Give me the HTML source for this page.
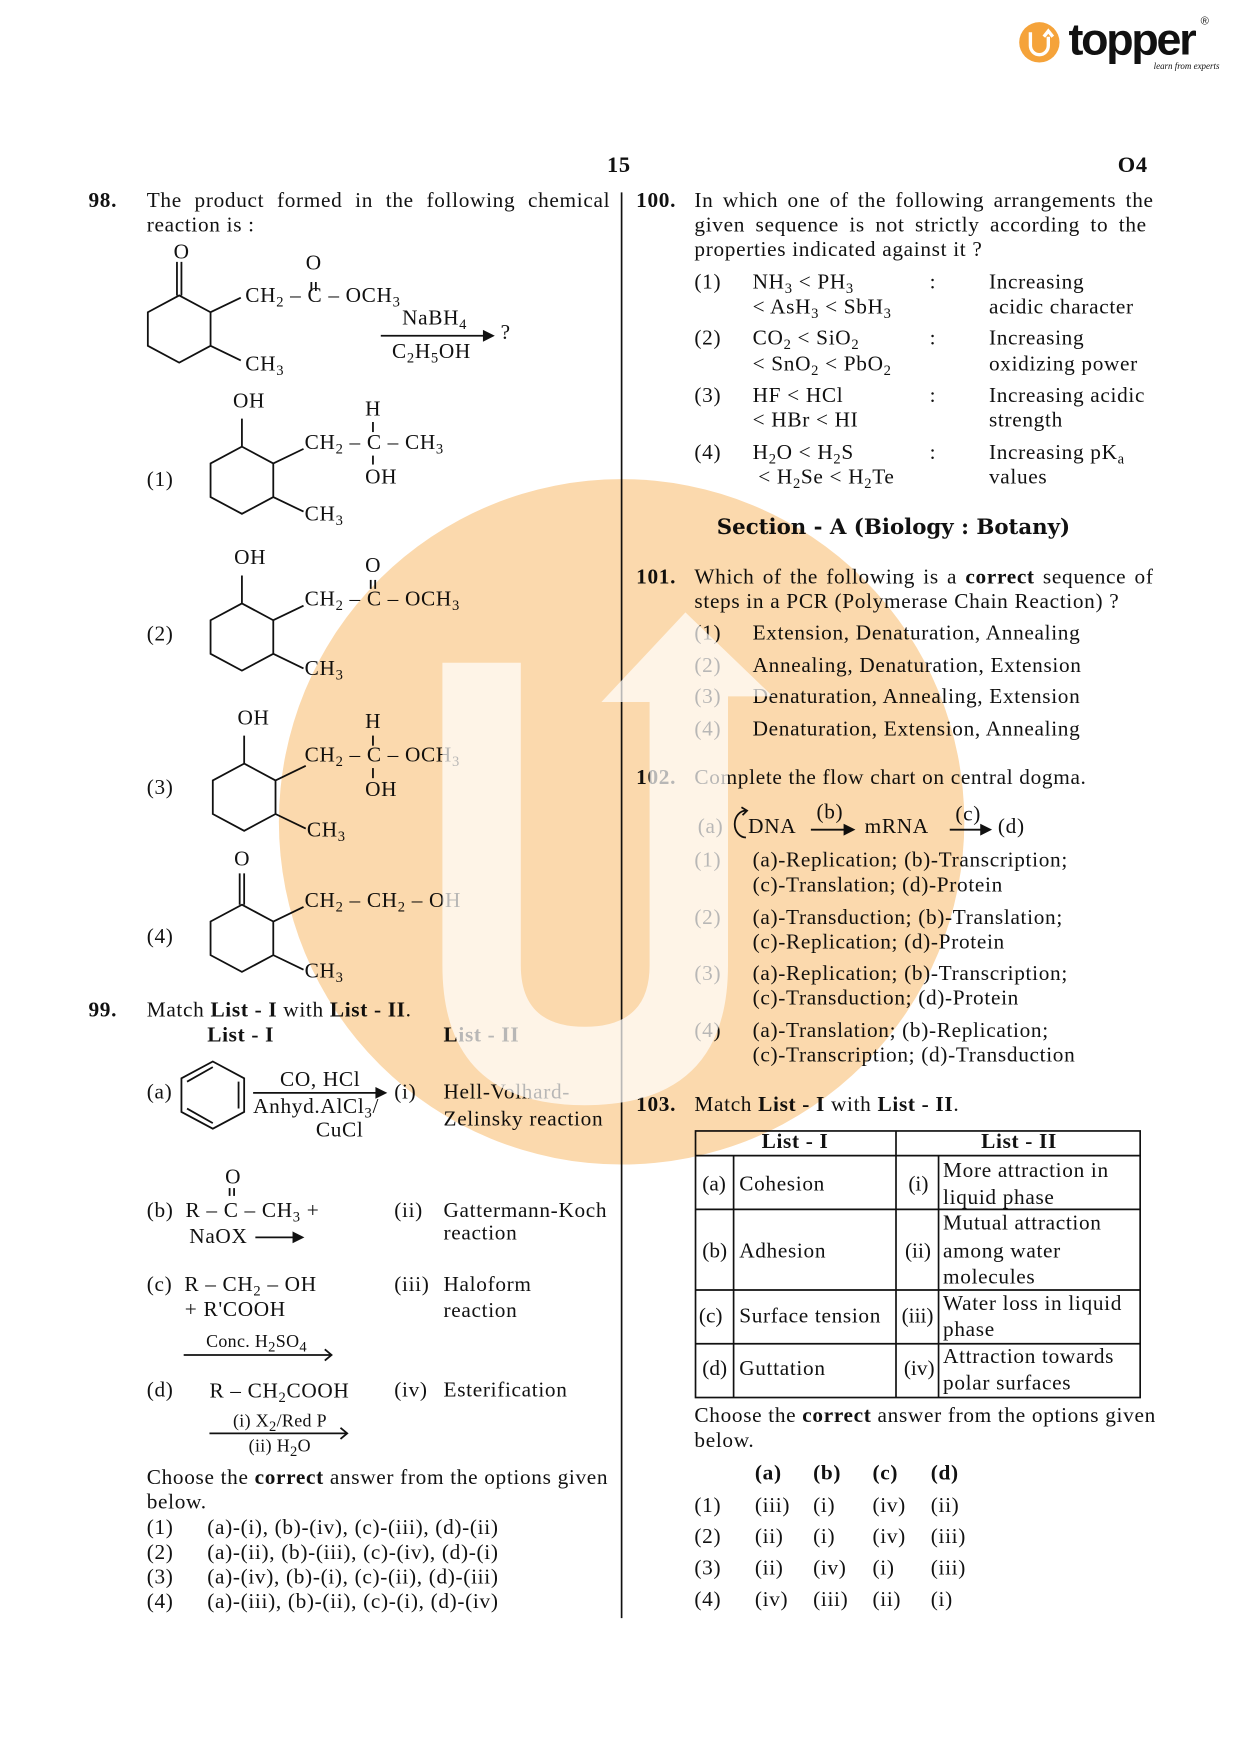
<!DOCTYPE html>
<html><head><meta charset="utf-8">
<style>
html,body{margin:0;padding:0;background:#fff;}
#wrap{position:relative;width:1240px;height:1755px;overflow:hidden;}
#pg{position:absolute;left:0;top:2px;width:1108px;height:1567px;transform:scale(1.12);transform-origin:0 0;font-family:"Liberation Serif",serif;font-size:19px;color:#111;}
.t{position:absolute;white-space:nowrap;line-height:22px;letter-spacing:0.6px;}
b{font-weight:bold;}
sub{font-size:13px;vertical-align:-4px;line-height:0;}
svg{position:absolute;left:0;top:0;}
.sm{font-size:16px;letter-spacing:0.3px;}
.hd{font-family:"DejaVu Serif","Liberation Serif",serif;font-weight:bold;font-size:19px;letter-spacing:0;}
</style></head><body><div id="wrap"><div id="pg">

<svg width="1100" height="80" style="left:0;top:0">
<circle cx="928" cy="36" r="18" fill="#f5a33a"/>
<path d="M920 27 v12 a8 8 0 0 0 16 0 v-8 M932 31 l4 -5 l4 5" stroke="#fff" stroke-width="3" fill="none"/>
</svg>
<div class="t" style="left:954px;top:12px;font-family:'Liberation Sans',sans-serif;font-weight:bold;font-size:40px;line-height:44px;letter-spacing:-2px;color:#111">topper</div>
<div class="t" style="left:1072px;top:12px;font-family:'Liberation Sans',sans-serif;font-size:10px;line-height:12px">®</div>
<div class="t" style="left:1030px;top:53px;font-size:8px;font-style:italic;line-height:10px;letter-spacing:0">learn from experts</div>

<div class="t" style="left:542px;top:135px;font-size:20px;font-weight:bold">15</div>
<div class="t" style="left:998px;top:135px;font-size:20px;font-weight:bold">O4</div>

<svg width="1100" height="1557">
<line x1="555" y1="170" x2="555" y2="1443" stroke="#111" stroke-width="1.5"/>
<g stroke="#111" stroke-width="1.6" fill="none">
<g transform="translate(160,262)"><path d="M0 0 L28 15 L28 45 L0 60 L-28 45 L-28 15 Z M28 15 L55 2 M28 45 L55 58"/><path d="M-2 0 V-30 M2 0 V-30"/></g>
<line x1="282" y1="250" x2="282" y2="258"/><line x1="278" y1="250" x2="278" y2="258"/>
<line x1="340" y1="298" x2="438" y2="298"/><path d="M432 294 L440 298 L432 302 Z" fill="#111"/>
<g transform="translate(216,397)"><path d="M0 0 L28 15 L28 45 L0 60 L-28 45 L-28 15 Z M28 15 L55 2 M28 45 L55 58 M0 0 V-25"/></g>
<line x1="333" y1="375" x2="333" y2="384"/><line x1="333" y1="405" x2="333" y2="413"/>
<g transform="translate(216,537)"><path d="M0 0 L28 15 L28 45 L0 60 L-28 45 L-28 15 Z M28 15 L55 2 M28 45 L55 58 M0 0 V-25"/></g>
<line x1="331" y1="516" x2="331" y2="524"/><line x1="335" y1="516" x2="335" y2="524"/>
<g transform="translate(218,680)"><path d="M0 0 L28 15 L28 45 L0 60 L-28 45 L-28 15 Z M28 15 L55 2 M28 45 L55 58 M0 0 V-25"/></g>
<line x1="333" y1="655" x2="333" y2="664"/><line x1="333" y1="684" x2="333" y2="693"/>
<g transform="translate(216,806)"><path d="M0 0 L28 15 L28 45 L0 60 L-28 45 L-28 15 Z M28 15 L55 2 M28 45 L55 58"/><path d="M-2 0 V-28 M2 0 V-28"/></g>
<path d="M190 946 L218 961 L218 991 L190 1006 L162 991 L162 961 Z M167 964 L190 951 M213 964 L213 988 M167 988 L190 1001"/>
<line x1="226" y1="974" x2="338" y2="974"/><path d="M336 970 L344 974 L336 978 Z" fill="#111"/>
<line x1="205" y1="1059" x2="205" y2="1066"/><line x1="209" y1="1059" x2="209" y2="1066"/>
<line x1="228" y1="1103" x2="264" y2="1103"/><path d="M262 1099 L270 1103 L262 1107 Z" fill="#111"/>
<line x1="164" y1="1208" x2="296" y2="1208"/><path d="M290 1203 L296 1208 L290 1213"/>
<line x1="187" y1="1278" x2="310" y2="1278"/><path d="M304 1273 L310 1278 L304 1283"/>
<path d="M666 722 A10 12 0 1 0 666 746"/><path d="M662 719 L667 722 L663 726"/>
<line x1="724" y1="739" x2="758" y2="739"/><path d="M754 735 L762 739 L754 743 Z" fill="#111"/>
<line x1="848" y1="739" x2="878" y2="739"/><path d="M876 735 L884 739 L876 743 Z" fill="#111"/>
<rect x="621" y="1008" width="397" height="238" stroke-width="1.5"/>
<path d="M621 1030 H1018 M621 1078 H1018 M621 1150 H1018 M621 1198 H1018 M800 1008 V1246 M655 1030 V1246 M838 1030 V1246" stroke-width="1.5"/>
</g>
</svg>

<!-- Q98 -->
<div class="t" style="left:79px;top:167px"><b>98.</b></div>
<div class="t" style="left:131px;top:167px;word-spacing:6px">The product formed in the following chemical</div>
<div class="t" style="left:131px;top:189px">reaction is :</div>
<div class="t" style="left:155px;top:213px">O</div>
<div class="t" style="left:273px;top:223px">O</div>
<div class="t" style="left:219px;top:252px">CH<sub>2</sub> – C – OCH<sub>3</sub></div>
<div class="t" style="left:359px;top:272px">NaBH<sub>4</sub></div>
<div class="t" style="left:447px;top:285px">?</div>
<div class="t" style="left:350px;top:302px">C<sub>2</sub>H<sub>5</sub>OH</div>
<div class="t" style="left:219px;top:313px">CH<sub>3</sub></div>

<div class="t" style="left:208px;top:346px">OH</div>
<div class="t" style="left:326px;top:353px">H</div>
<div class="t" style="left:272px;top:383px">CH<sub>2</sub> – C – CH<sub>3</sub></div>
<div class="t" style="left:326px;top:414px">OH</div>
<div class="t" style="left:131px;top:416px">(1)</div>
<div class="t" style="left:272px;top:447px">CH<sub>3</sub></div>

<div class="t" style="left:209px;top:486px">OH</div>
<div class="t" style="left:326px;top:493px">O</div>
<div class="t" style="left:272px;top:523px">CH<sub>2</sub> – C – OCH<sub>3</sub></div>
<div class="t" style="left:131px;top:554px">(2)</div>
<div class="t" style="left:272px;top:585px">CH<sub>3</sub></div>

<div class="t" style="left:212px;top:629px">OH</div>
<div class="t" style="left:326px;top:632px">H</div>
<div class="t" style="left:272px;top:662px">CH<sub>2</sub> – C – OCH<sub>3</sub></div>
<div class="t" style="left:326px;top:693px">OH</div>
<div class="t" style="left:131px;top:691px">(3)</div>
<div class="t" style="left:274px;top:729px">CH<sub>3</sub></div>

<div class="t" style="left:209px;top:755px">O</div>
<div class="t" style="left:272px;top:792px">CH<sub>2</sub> – CH<sub>2</sub> – OH</div>
<div class="t" style="left:131px;top:824px">(4)</div>
<div class="t" style="left:272px;top:855px">CH<sub>3</sub></div>

<!-- Q99 -->
<div class="t" style="left:79px;top:890px"><b>99.</b></div>
<div class="t" style="left:131px;top:890px">Match <b>List - I</b> with <b>List - II</b>.</div>
<div class="t" style="left:185px;top:912px"><b>List - I</b></div>
<div class="t" style="left:396px;top:912px"><b>List - II</b></div>
<div class="t" style="left:131px;top:963px">(a)</div>
<div class="t" style="left:250px;top:952px">CO, HCl</div>
<div class="t" style="left:226px;top:976px">Anhyd.AlCl<sub>3</sub>/</div>
<div class="t" style="left:282px;top:997px">CuCl</div>
<div class="t" style="left:352px;top:963px">(i)</div>
<div class="t" style="left:396px;top:963px">Hell-Volhard-</div>
<div class="t" style="left:396px;top:987px">Zelinsky reaction</div>
<div class="t" style="left:201px;top:1039px">O</div>
<div class="t" style="left:131px;top:1069px">(b)&nbsp; R – C – CH<sub>3</sub> +</div>
<div class="t" style="left:169px;top:1092px">NaOX</div>
<div class="t" style="left:352px;top:1069px">(ii)</div>
<div class="t" style="left:396px;top:1069px">Gattermann-Koch</div>
<div class="t" style="left:396px;top:1089px">reaction</div>
<div class="t" style="left:131px;top:1135px">(c)&nbsp; R – CH<sub>2</sub> – OH</div>
<div class="t" style="left:165px;top:1157px">+ R'COOH</div>
<div class="t sm" style="left:184px;top:1186px">Conc. H<sub>2</sub>SO<sub>4</sub></div>
<div class="t" style="left:352px;top:1135px">(iii)</div>
<div class="t" style="left:396px;top:1135px">Haloform</div>
<div class="t" style="left:396px;top:1158px">reaction</div>
<div class="t" style="left:131px;top:1229px">(d)</div>
<div class="t" style="left:187px;top:1230px">R – CH<sub>2</sub>COOH</div>
<div class="t sm" style="left:208px;top:1257px">(i) X<sub>2</sub>/Red P</div>
<div class="t sm" style="left:222px;top:1279px">(ii) H<sub>2</sub>O</div>
<div class="t" style="left:352px;top:1229px">(iv)</div>
<div class="t" style="left:396px;top:1229px">Esterification</div>
<div class="t" style="left:131px;top:1307px">Choose the <b>correct</b> answer from the options given</div>
<div class="t" style="left:131px;top:1329px">below.</div>
<div class="t" style="left:131px;top:1352px">(1)</div><div class="t" style="left:185px;top:1352px">(a)-(i), (b)-(iv), (c)-(iii), (d)-(ii)</div>
<div class="t" style="left:131px;top:1374px">(2)</div><div class="t" style="left:185px;top:1374px">(a)-(ii), (b)-(iii), (c)-(iv), (d)-(i)</div>
<div class="t" style="left:131px;top:1396px">(3)</div><div class="t" style="left:185px;top:1396px">(a)-(iv), (b)-(i), (c)-(ii), (d)-(iii)</div>
<div class="t" style="left:131px;top:1418px">(4)</div><div class="t" style="left:185px;top:1418px">(a)-(iii), (b)-(ii), (c)-(i), (d)-(iv)</div>

<!-- Q100 -->
<div class="t" style="left:568px;top:167px"><b>100.</b></div>
<div class="t" style="left:620px;top:167px;word-spacing:3px">In which one of the following arrangements the</div>
<div class="t" style="left:620px;top:189px;word-spacing:4px">given sequence is not strictly according to the</div>
<div class="t" style="left:620px;top:211px">properties indicated against it ?</div>
<div class="t" style="left:620px;top:240px">(1)</div><div class="t" style="left:672px;top:240px">NH<sub>3</sub> &lt; PH<sub>3</sub></div><div class="t" style="left:672px;top:262px">&lt; AsH<sub>3</sub> &lt; SbH<sub>3</sub></div>
<div class="t" style="left:830px;top:240px">:</div><div class="t" style="left:883px;top:240px">Increasing</div><div class="t" style="left:883px;top:262px">acidic character</div>
<div class="t" style="left:620px;top:290px">(2)</div><div class="t" style="left:672px;top:290px">CO<sub>2</sub> &lt; SiO<sub>2</sub></div><div class="t" style="left:672px;top:313px">&lt; SnO<sub>2</sub> &lt; PbO<sub>2</sub></div>
<div class="t" style="left:830px;top:290px">:</div><div class="t" style="left:883px;top:290px">Increasing</div><div class="t" style="left:883px;top:313px">oxidizing power</div>
<div class="t" style="left:620px;top:341px">(3)</div><div class="t" style="left:672px;top:341px">HF &lt; HCl</div><div class="t" style="left:672px;top:363px">&lt; HBr &lt; HI</div>
<div class="t" style="left:830px;top:341px">:</div><div class="t" style="left:883px;top:341px">Increasing acidic</div><div class="t" style="left:883px;top:363px">strength</div>
<div class="t" style="left:620px;top:392px">(4)</div><div class="t" style="left:672px;top:392px">H<sub>2</sub>O &lt; H<sub>2</sub>S</div><div class="t" style="left:677px;top:414px">&lt; H<sub>2</sub>Se &lt; H<sub>2</sub>Te</div>
<div class="t" style="left:830px;top:392px">:</div><div class="t" style="left:883px;top:392px">Increasing pK<sub>a</sub></div><div class="t" style="left:883px;top:414px">values</div>

<div class="t hd" style="left:640px;top:458px">Section - A (Biology : Botany)</div>

<div class="t" style="left:568px;top:503px"><b>101.</b></div>
<div class="t" style="left:620px;top:503px;word-spacing:2px">Which of the following is a <b>correct</b> sequence of</div>
<div class="t" style="left:620px;top:525px">steps in a PCR (Polymerase Chain Reaction) ?</div>
<div class="t" style="left:620px;top:553px">(1)</div><div class="t" style="left:672px;top:553px">Extension, Denaturation, Annealing</div>
<div class="t" style="left:620px;top:582px">(2)</div><div class="t" style="left:672px;top:582px">Annealing, Denaturation, Extension</div>
<div class="t" style="left:620px;top:610px">(3)</div><div class="t" style="left:672px;top:610px">Denaturation, Annealing, Extension</div>
<div class="t" style="left:620px;top:639px">(4)</div><div class="t" style="left:672px;top:639px">Denaturation, Extension, Annealing</div>

<div class="t" style="left:568px;top:682px"><b>102.</b></div>
<div class="t" style="left:620px;top:682px">Complete the flow chart on central dogma.</div>
<div class="t" style="left:623px;top:726px">(a)</div>
<div class="t" style="left:668px;top:726px">DNA</div>
<div class="t" style="left:729px;top:713px">(b)</div>
<div class="t" style="left:772px;top:726px">mRNA</div>
<div class="t" style="left:853px;top:715px">(c)</div>
<div class="t" style="left:891px;top:726px">(d)</div>
<div class="t" style="left:620px;top:756px">(1)</div><div class="t" style="left:672px;top:756px">(a)-Replication; (b)-Transcription;</div><div class="t" style="left:672px;top:778px">(c)-Translation; (d)-Protein</div>
<div class="t" style="left:620px;top:807px">(2)</div><div class="t" style="left:672px;top:807px">(a)-Transduction; (b)-Translation;</div><div class="t" style="left:672px;top:829px">(c)-Replication; (d)-Protein</div>
<div class="t" style="left:620px;top:857px">(3)</div><div class="t" style="left:672px;top:857px">(a)-Replication; (b)-Transcription;</div><div class="t" style="left:672px;top:879px">(c)-Transduction; (d)-Protein</div>
<div class="t" style="left:620px;top:908px">(4)</div><div class="t" style="left:672px;top:908px">(a)-Translation; (b)-Replication;</div><div class="t" style="left:672px;top:930px">(c)-Transcription; (d)-Transduction</div>

<div class="t" style="left:568px;top:974px"><b>103.</b></div>
<div class="t" style="left:620px;top:974px">Match <b>List - I</b> with <b>List - II</b>.</div>
<div class="t" style="left:680px;top:1007px"><b>List - I</b></div>
<div class="t" style="left:876px;top:1007px"><b>List - II</b></div>
<div class="t" style="left:627px;top:1045px;letter-spacing:0">(a)</div><div class="t" style="left:660px;top:1045px">Cohesion</div><div class="t" style="left:811px;top:1045px;letter-spacing:0">(i)</div>
<div class="t" style="left:842px;top:1033px">More attraction in</div><div class="t" style="left:842px;top:1057px">liquid phase</div>
<div class="t" style="left:627px;top:1105px;letter-spacing:0">(b)</div><div class="t" style="left:660px;top:1105px">Adhesion</div><div class="t" style="left:808px;top:1105px;letter-spacing:0">(ii)</div>
<div class="t" style="left:842px;top:1080px">Mutual attraction</div><div class="t" style="left:842px;top:1105px">among water</div><div class="t" style="left:842px;top:1128px">molecules</div>
<div class="t" style="left:624px;top:1163px;letter-spacing:0">(c)</div><div class="t" style="left:660px;top:1163px">Surface tension</div><div class="t" style="left:805px;top:1163px;letter-spacing:0">(iii)</div>
<div class="t" style="left:842px;top:1152px">Water loss in liquid</div><div class="t" style="left:842px;top:1175px">phase</div>
<div class="t" style="left:627px;top:1210px;letter-spacing:0">(d)</div><div class="t" style="left:660px;top:1210px">Guttation</div><div class="t" style="left:807px;top:1210px;letter-spacing:0">(iv)</div>
<div class="t" style="left:842px;top:1199px">Attraction towards</div><div class="t" style="left:842px;top:1223px">polar surfaces</div>
<div class="t" style="left:620px;top:1252px">Choose the <b>correct</b> answer from the options given</div>
<div class="t" style="left:620px;top:1274px">below.</div>
<div class="t" style="left:674px;top:1303px"><b>(a)</b></div><div class="t" style="left:726px;top:1303px"><b>(b)</b></div><div class="t" style="left:779px;top:1303px"><b>(c)</b></div><div class="t" style="left:831px;top:1303px"><b>(d)</b></div>
<div class="t" style="left:620px;top:1332px">(1)</div><div class="t" style="left:674px;top:1332px">(iii)</div><div class="t" style="left:726px;top:1332px">(i)</div><div class="t" style="left:779px;top:1332px">(iv)</div><div class="t" style="left:831px;top:1332px">(ii)</div>
<div class="t" style="left:620px;top:1360px">(2)</div><div class="t" style="left:674px;top:1360px">(ii)</div><div class="t" style="left:726px;top:1360px">(i)</div><div class="t" style="left:779px;top:1360px">(iv)</div><div class="t" style="left:831px;top:1360px">(iii)</div>
<div class="t" style="left:620px;top:1388px">(3)</div><div class="t" style="left:674px;top:1388px">(ii)</div><div class="t" style="left:726px;top:1388px">(iv)</div><div class="t" style="left:779px;top:1388px">(i)</div><div class="t" style="left:831px;top:1388px">(iii)</div>
<div class="t" style="left:620px;top:1416px">(4)</div><div class="t" style="left:674px;top:1416px">(iv)</div><div class="t" style="left:726px;top:1416px">(iii)</div><div class="t" style="left:779px;top:1416px">(ii)</div><div class="t" style="left:831px;top:1416px">(i)</div>

<svg width="1100" height="1557" style="mix-blend-mode:multiply">
<circle cx="555" cy="732" r="306" fill="#fbd9ad"/>
</svg>
<svg width="1100" height="1557">
<path d="M395 590 H465 V860 Q465 915 522 915 Q580 915 580 860 V625 H537 L612 545 L690 620 H650 V860 Q650 985 522 985 Q395 985 395 860 Z" fill="#fff" opacity="0.7"/>
</svg>

</div></div></body></html>
